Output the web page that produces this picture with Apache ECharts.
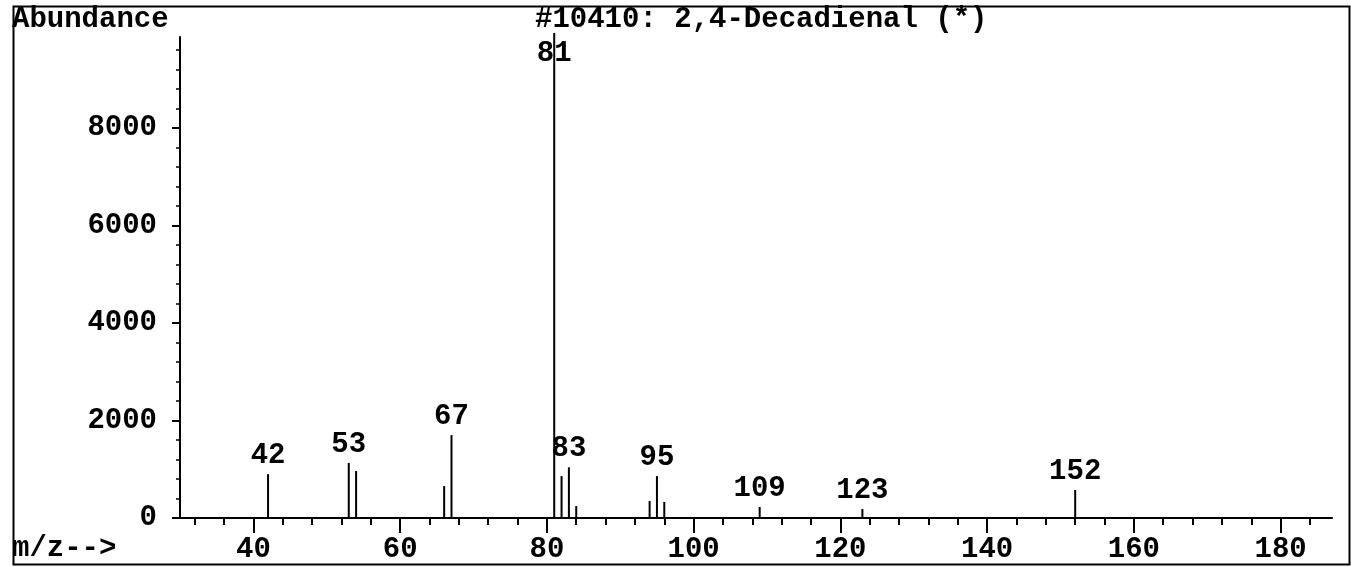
<!DOCTYPE html>
<html>
<head>
<meta charset="utf-8">
<script src="https://cdn.jsdelivr.net/npm/echarts@6/dist/echarts.min.js"></script>
<style>
html,body{margin:0;padding:0;background:#fff;}
#chart{width:1351px;height:567px;}
</style>
</head>
<body>
<div id="chart"></div>
<script>
// ---- data ----
const mz = [42, 53, 54, 66, 67, 81, 82, 83, 84, 94, 95, 96, 109, 123, 152];
const abundance = [900, 1130, 965, 655, 1700, 9950, 860, 1040, 245, 350, 860, 330, 225, 185, 575];
const labeledPeaks = [42, 53, 67, 81, 83, 95, 109, 123, 152];
const xMajorTicks = [40, 60, 80, 100, 120, 140, 160, 180];
const xMinorTicks = [32, 36, 40, 44, 48, 52, 56, 60, 64, 68, 72, 76, 80, 84, 88, 92, 96, 100, 104, 108, 112, 116, 120, 124, 128, 132, 136, 140, 144, 148, 152, 156, 160, 164, 168, 172, 176, 180, 184];
const yMajorTicks = [0, 2000, 4000, 6000, 8000];
const yMinorTicks = [400, 800, 1200, 1600, 2400, 2800, 3200, 3600, 4400, 4800, 5200, 5600, 6400, 6800, 7200, 7600, 8400, 8800, 9200, 9600];
const titleText = '#10410: 2,4-Decadienal (*)';
const yTitle = 'Abundance';
const xTitle = 'm/z-->';

const FONT = "'Liberation Mono', 'DejaVu Sans Mono', monospace";
const FS = 29;

const chart = echarts.init(document.getElementById('chart'), null, {renderer: 'canvas'});

const xRange = {min: 30, max: 187};
const yRange = {min: 0, max: 9870};

const barData = mz.map((m, i) => {
  const item = {value: [m, abundance[i]]};
  if (m === 81) {
    item.label = {position: 'insideTop', distance: 6};
  }
  return item;
});

const plain = v => String(v);

const option = {
  animation: false,
  backgroundColor: '#fff',
  grid: {left: 180, right: 19, top: 37, bottom: 49, containLabel: false},
  xAxis: [
    {
      type: 'value', min: xRange.min, max: xRange.max, position: 'bottom',
      axisLine: {show: true, onZero: false, lineStyle: {color: '#000', width: 2}},
      axisTick: {show: true, length: 7, lineStyle: {color: '#000', width: 2}, customValues: xMinorTicks},
      axisLabel: {show: false},
      splitLine: {show: false}
    },
    {
      type: 'value', min: xRange.min, max: xRange.max, position: 'bottom',
      axisLine: {show: false, onZero: false},
      axisTick: {show: true, length: 15, lineStyle: {color: '#000', width: 2}, customValues: xMajorTicks},
      axisLabel: {show: true, margin: 17, color: '#000', fontFamily: FONT, fontWeight: 'bold', fontSize: FS, customValues: xMajorTicks, formatter: plain},
      splitLine: {show: false}
    }
  ],
  yAxis: [
    {
      type: 'value', min: yRange.min, max: yRange.max, position: 'left',
      axisLine: {show: true, onZero: false, lineStyle: {color: '#000', width: 2}},
      axisTick: {show: true, length: 4, lineStyle: {color: '#000', width: 1.5}, customValues: yMinorTicks},
      axisLabel: {show: false},
      splitLine: {show: false}
    },
    {
      type: 'value', min: yRange.min, max: yRange.max, position: 'left',
      axisLine: {show: false, onZero: false},
      axisTick: {show: true, length: 8, lineStyle: {color: '#000', width: 2}, customValues: yMajorTicks},
      axisLabel: {show: true, margin: 23, color: '#000', fontFamily: FONT, fontWeight: 'bold', fontSize: FS, customValues: yMajorTicks, formatter: plain},
      splitLine: {show: false}
    }
  ],
  series: [
    {
      type: 'bar',
      xAxisIndex: 0,
      yAxisIndex: 0,
      barWidth: 2,
      clip: false,
      itemStyle: {color: '#000'},
      label: {
        show: true,
        position: 'top',
        distance: 4,
        color: '#000',
        fontFamily: FONT,
        fontWeight: 'bold',
        fontSize: FS,
        formatter: p => labeledPeaks.indexOf(p.value[0]) >= 0 ? String(p.value[0]) : ''
      },
      data: barData
    }
  ],
  graphic: [
    {
      type: 'rect', left: 11, top: 4, z: 100, silent: true,
      shape: {width: 1336, height: 558},
      style: {fill: 'none', stroke: '#000', lineWidth: 2}
    },
    {
      type: 'text', left: 12, top: 5, z: 100,
      style: {text: yTitle, fill: '#000', font: 'bold ' + FS + 'px ' + FONT}
    },
    {
      type: 'text', left: 535, top: 5, z: 100,
      style: {text: titleText, fill: '#000', font: 'bold ' + FS + 'px ' + FONT}
    },
    {
      type: 'text', left: 12, top: 534, z: 100,
      style: {text: xTitle, fill: '#000', font: 'bold ' + FS + 'px ' + FONT}
    }
  ]
};

chart.setOption(option);
</script>
</body>
</html>
